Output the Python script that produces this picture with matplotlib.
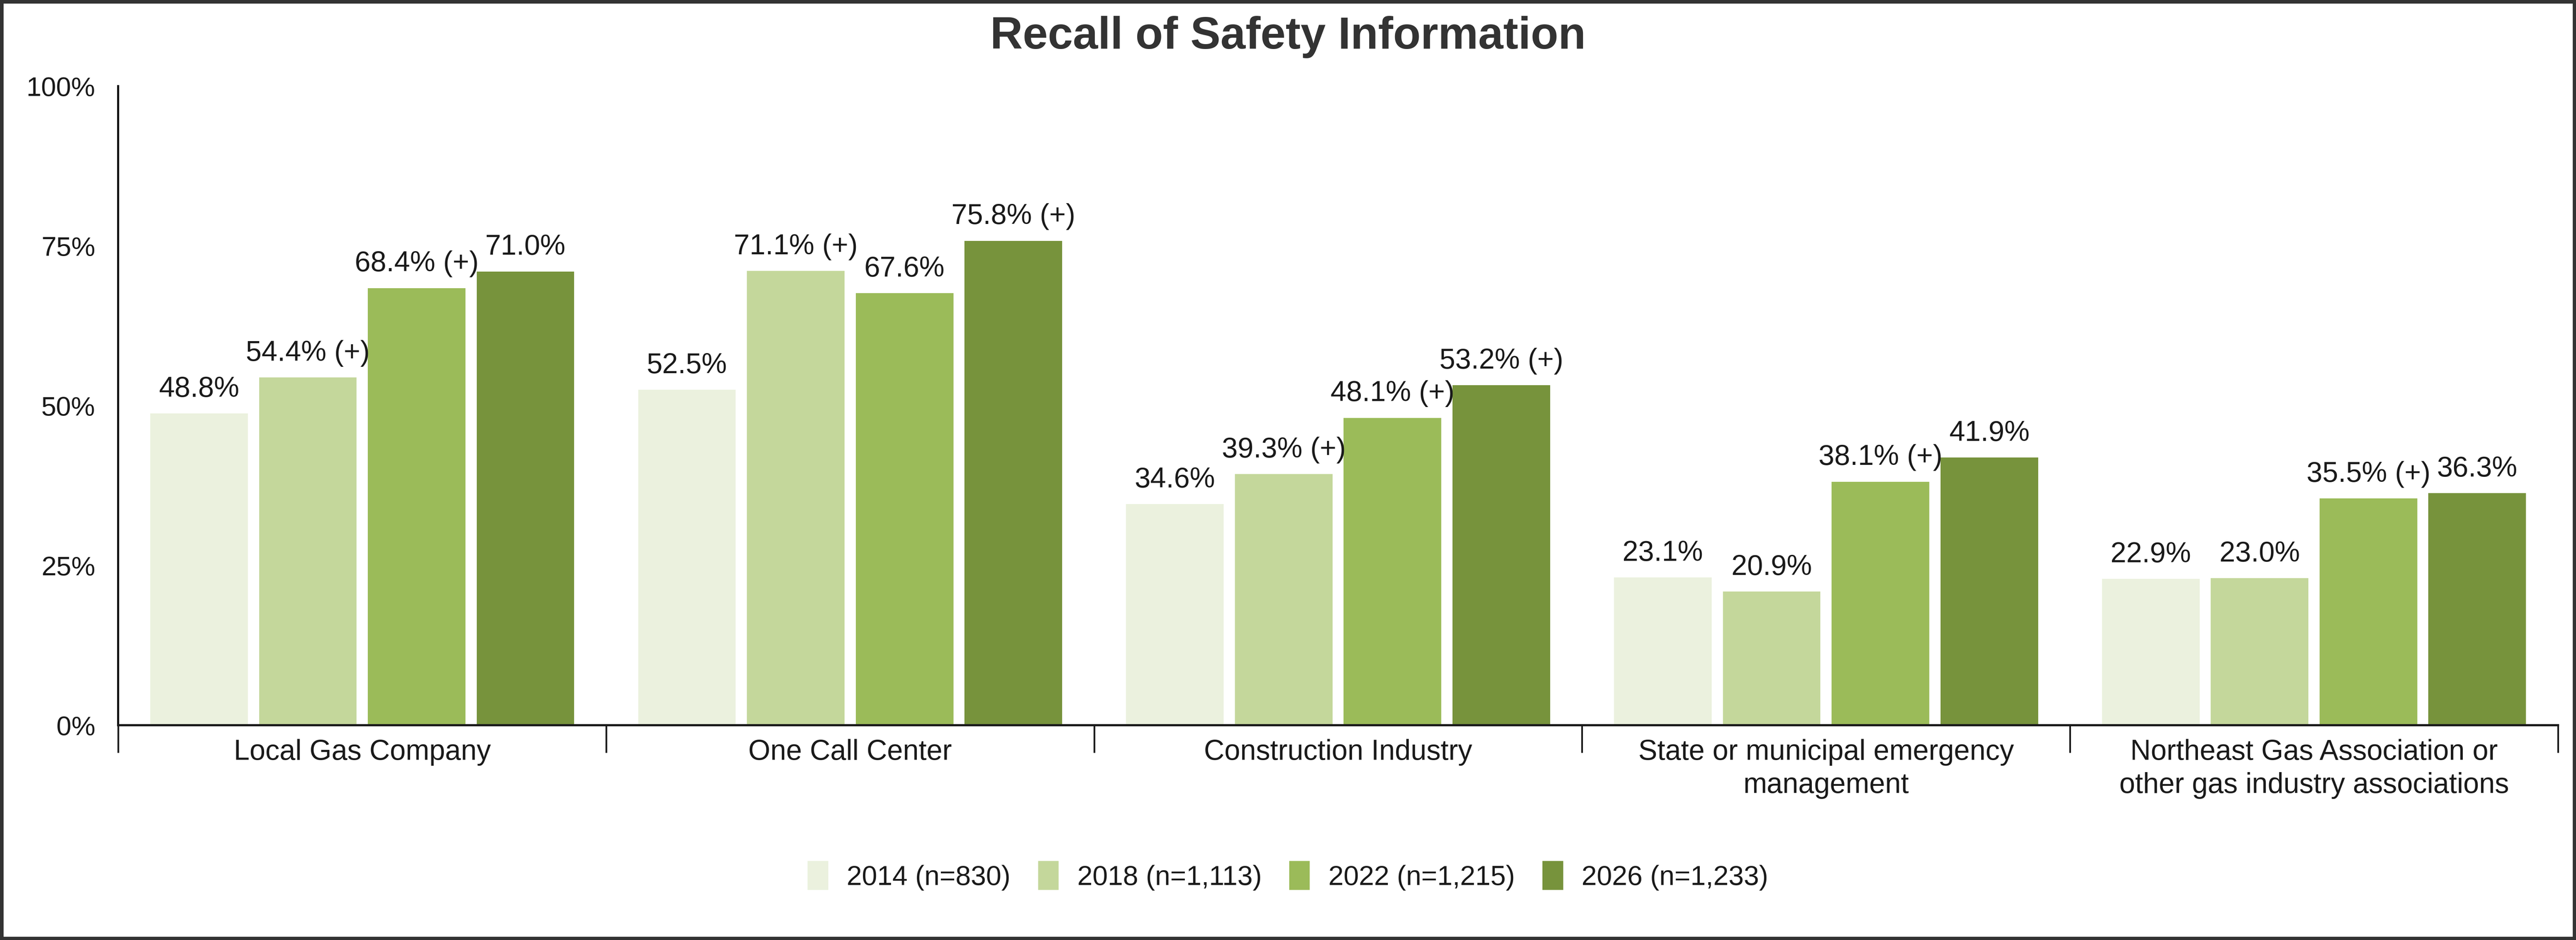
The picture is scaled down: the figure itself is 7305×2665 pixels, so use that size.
import numpy as np
import matplotlib
matplotlib.use("Agg")
import matplotlib.pyplot as plt
from matplotlib.patches import Rectangle
from matplotlib.ticker import FixedLocator, PercentFormatter

plt.rcParams['font.family'] = ['Liberation Sans', 'DejaVu Sans']

# data
categories = ["Local Gas Company", "One Call Center", "Construction Industry",
              "State or municipal emergency\nmanagement",
              "Northeast Gas Association or\nother gas industry associations"]
series_names = ["2014 (n=830)", "2018 (n=1,113)", "2022 (n=1,215)", "2026 (n=1,233)"]
vals_2014 = [48.8, 52.5, 34.6, 23.1, 22.9]
vals_2018 = [54.4, 71.1, 39.3, 20.9, 23.0]
vals_2022 = [68.4, 67.6, 48.1, 38.1, 35.5]
vals_2026 = [71.0, 75.8, 53.2, 41.9, 36.3]
sig_2014 = [False, False, False, False, False]
sig_2018 = [True, True, True, False, False]
sig_2022 = [True, False, True, True, True]
sig_2026 = [False, True, True, False, False]
colors = ["#EBF1DE", "#C4D79B", "#9BBB59", "#77933C"]

all_vals = [vals_2014, vals_2018, vals_2022, vals_2026]
all_sig = [sig_2014, sig_2018, sig_2022, sig_2026]

fs = 58
txt = "#1a1a1a"

fig = plt.figure(figsize=(73.05, 26.65), dpi=100)
ax = fig.add_axes([0.0459, 0.2285, 0.993 - 0.0459, 0.9084 - 0.2285])

x = np.arange(len(categories))
step = 0.223
width = 0.2
for k in range(4):
    xs = x + (k - 1.5) * step
    bars = ax.bar(xs, all_vals[k], width=width, color=colors[k], label=series_names[k], zorder=2)
    for b, v, s in zip(bars, all_vals[k], all_sig[k]):
        lab = f"{v:.1f}%" + (" (+)" if s else "")
        ax.annotate(lab, (b.get_x() + b.get_width() / 2, v), xytext=(0, 34),
                    textcoords="offset points", ha="center", va="baseline",
                    fontsize=fs, color=txt)

ax.set_xlim(-0.5, len(categories) - 0.5)
ax.set_ylim(0, 100)
ax.set_yticks([0, 25, 50, 75, 100])
ax.yaxis.set_major_formatter(PercentFormatter(decimals=0))
ax.tick_params(axis="y", length=0, pad=47, labelsize=55, labelcolor=txt)

ax.set_xticks(x)
ax.set_xticklabels(categories, fontsize=fs, color=txt, linespacing=1.3)
ax.tick_params(axis="x", which="major", length=0, pad=28)
ax.xaxis.set_minor_locator(FixedLocator(np.arange(-0.5, len(categories), 1.0)))
ax.tick_params(axis="x", which="minor", length=56, width=3.5, color="#1a1a1a")

for side in ["top", "right"]:
    ax.spines[side].set_visible(False)
ax.spines["left"].set_linewidth(4)
ax.spines["bottom"].set_linewidth(4.5)
ax.spines["left"].set_color("black")
ax.spines["bottom"].set_color("#1a1a1a")

fig.text(0.5, 1 - 105 / 2665, "Recall of Safety Information", ha="center", va="center",
         fontsize=92, fontweight="bold", color="#333333")

ax.legend(loc="center", bbox_to_anchor=(0.5, 1 - 2483 / 2665), bbox_transform=fig.transFigure,
          ncol=4, frameon=False, fontsize=56, handlelength=0.75, handleheight=1.24,
          handletextpad=0.68, columnspacing=1.0, labelcolor=txt)

fig.patches.append(Rectangle((0, 0), 1, 1, transform=fig.transFigure, fill=False,
                             edgecolor="#333333", linewidth=14))

fig.savefig("out.png", dpi=100)
